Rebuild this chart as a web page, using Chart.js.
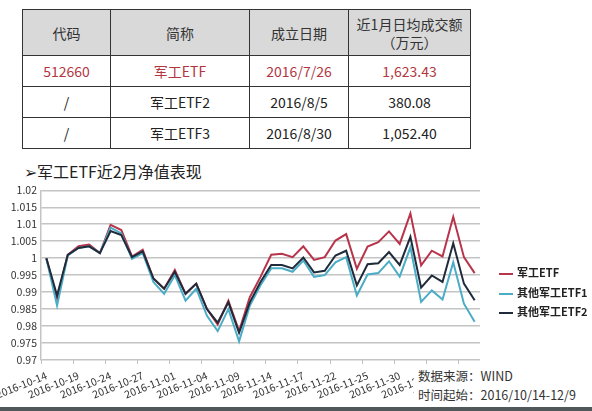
<!DOCTYPE html>
<html>
<head>
<meta charset="utf-8">
<script src="https://cdn.jsdelivr.net/npm/chart.js@4.4.1/dist/chart.umd.min.js"></script>
<style>
  body { margin: 0; background: #fff; font-family: "Noto Sans CJK SC", sans-serif; }
  #wrap { position: relative; width: 592px; height: 411px; overflow: hidden; background: #fff; }
  table { position: absolute; left: 22px; top: 9px; border-collapse: collapse; font-size: 14px; color: #222; }
  td, th { border: 1.5px solid #333; text-align: center; padding: 0; font-weight: normal; }
  th { background: #d9d9d9; height: 45px; line-height: 18px; color: #333; }
  td { height: 30px; }
  tr.hl td { color: #b3363f; }
  #title { position: absolute; left: 24px; top: 159px; font-size: 16px; color: #222; white-space: nowrap; }
  #chart { position: absolute; left: 0; top: 180px; }
  #legend { position: absolute; left: 499px; top: 263px; font-size: 11px; font-weight: bold; color: #222; }
  #legend div { height: 19.5px; line-height: 19px; white-space: nowrap; }
  #legend span { display: inline-block; width: 14px; height: 2px; vertical-align: middle; margin-right: 4px; }
  #source { position: absolute; left: 414px; top: 366px; font-size: 12.5px; color: #333; background: #fff; line-height: 19px; padding-left: 4px; white-space: nowrap; }
  #bottom { position: absolute; left: 0; top: 407px; width: 592px; height: 4px; background: #50585a; }
</style>
</head>
<body>
<div id="wrap">
  <table id="tbl"></table>
  <div id="title">➢军工ETF近2月净值表现</div>
  <canvas id="chart" width="592" height="231"></canvas>
  <div id="legend"></div>
  <div id="source">数据来源：WIND<br>时间起始：2016/10/14-12/9</div>
  <div id="bottom"></div>
</div>
<script>
// 表格数据
var headers = ["代码", "简称", "成立日期", "近1月日均成交额<br>（万元）"];
var codes = ["512660", "/", "/"];
var names = ["军工ETF", "军工ETF2", "军工ETF3"];
var setupDates = ["2016/7/26", "2016/8/5", "2016/8/30"];
var turnover = ["1,623.43", "380.08", "1,052.40"];
var colWidths = [87, 138, 98, 121];

// 净值数据 (2016/10/14 - 2016/12/9)
var dates = [
  "2016-10-14", "2016-10-17", "2016-10-18", "2016-10-19", "2016-10-20", "2016-10-21",
  "2016-10-24", "2016-10-25", "2016-10-26", "2016-10-27", "2016-10-28", "2016-10-31",
  "2016-11-01", "2016-11-02", "2016-11-03", "2016-11-04", "2016-11-07", "2016-11-08",
  "2016-11-09", "2016-11-10", "2016-11-11", "2016-11-14", "2016-11-15", "2016-11-16",
  "2016-11-17", "2016-11-18", "2016-11-21", "2016-11-22", "2016-11-23", "2016-11-24",
  "2016-11-25", "2016-11-28", "2016-11-29", "2016-11-30", "2016-12-01", "2016-12-02",
  "2016-12-05", "2016-12-06", "2016-12-07", "2016-12-08", "2016-12-09"
];
var junGong = [
  1.000, 0.988, 1.001, 1.0035, 1.004, 1.0015, 1.0098, 1.0083, 1.0005, 1.0025,
  0.994, 0.991, 0.9965, 0.9895, 0.9925, 0.985, 0.9805, 0.9875, 0.9785, 0.9885,
  0.9945, 1.001, 1.0013, 1.0003, 1.0035, 0.9995, 1.0003, 1.0052, 1.0071, 0.9969,
  1.0034, 1.0047, 1.0079, 1.0042, 1.0132, 0.9979, 1.0022, 1.0005, 1.0122, 1.0003,
  0.9956
];
var other1 = [
  1.000, 0.986, 1.0008, 1.003, 1.0035, 1.0015, 1.009, 1.0073, 0.9998, 1.0015,
  0.993, 0.9895, 0.995, 0.9875, 0.991, 0.983, 0.9785, 0.985, 0.9755, 0.986,
  0.992, 0.997, 0.997, 0.996, 0.9993, 0.9945, 0.995, 0.9988, 1.0003, 0.989,
  0.9952, 0.9956, 0.9991, 0.9946, 1.0032, 0.9871, 0.9905, 0.9878, 0.9988, 0.9866,
  0.9813
];
var other2 = [
  1.000, 0.989, 1.001, 1.003, 1.0035, 1.0015, 1.008, 1.0068, 1.0003, 1.002,
  0.994, 0.991, 0.996, 0.9895, 0.9925, 0.985, 0.981, 0.987, 0.978, 0.987,
  0.993, 0.998, 0.998, 0.997, 1.0002, 0.9958, 0.9963, 1.0008, 1.0022, 0.992,
  0.9982, 0.9985, 1.0018, 0.998, 1.0063, 0.9913, 0.9949, 0.993, 1.0044, 0.9925,
  0.9876
];
var seriesNames = ["军工ETF", "其他军工ETF1", "其他军工ETF2"];
var seriesColors = ["#b8344b", "#4bacc6", "#1f2a3a"];

// 表格
var tbl = document.getElementById("tbl");
var html = "<tr>";
for (let i = 0; i < headers.length; i++) {
  html += '<th style="width:' + colWidths[i] + 'px">' + headers[i] + "</th>";
}
html += "</tr>";
for (let r = 0; r < codes.length; r++) {
  html += '<tr' + (r === 0 ? ' class="hl"' : '') + '>';
  html += "<td>" + codes[r] + "</td><td>" + names[r] + "</td><td>" + setupDates[r] + "</td><td>" + turnover[r] + "</td></tr>";
}
tbl.innerHTML = html;

// 图例
var legend = document.getElementById("legend");
for (let i = 0; i < seriesNames.length; i++) {
  legend.innerHTML += '<div><span style="background:' + seriesColors[i] + '"></span>' + seriesNames[i] + '</div>';
}

var ctx = document.getElementById("chart").getContext("2d");
var myChart = new Chart(ctx, {
  type: "line",
  data: {
    labels: dates,
    datasets: [
      { label: seriesNames[0], data: junGong, borderColor: seriesColors[0], order: 3 },
      { label: seriesNames[1], data: other1, borderColor: seriesColors[1], order: 2 },
      { label: seriesNames[2], data: other2, borderColor: seriesColors[2], order: 1 }
    ]
  },
  options: {
    responsive: false,
    animation: false,
    layout: { padding: { top: 6, right: 112, left: 0, bottom: 0 } },
    elements: {
      line: { borderWidth: 2, tension: 0 },
      point: { radius: 0 }
    },
    plugins: { legend: { display: false }, tooltip: { enabled: false } },
    scales: {
      x: {
        offset: true,
        afterFit: function (scale) {
          scale.height = 51;
          scale.paddingLeft = 0;
          scale.paddingRight = 0;
        },
        grid: {
          offset: true,
          drawOnChartArea: false,
          tickLength: 4,
          color: function (c) { return c.index % 3 === 0 ? "#bfbfbf" : "rgba(0,0,0,0)"; }
        },
        border: { display: false },
        ticks: {
          autoSkip: false,
          maxRotation: 22,
          minRotation: 22,
          padding: 5,
          color: "#333",
          font: { family: "Liberation Sans Narrow, Noto Sans CJK SC", size: 10.5 },
          callback: function (v, i) { return i % 3 === 0 ? dates[i] : ""; }
        }
      },
      y: {
        min: 0.97,
        max: 1.02,
        afterFit: function (scale) { scale.width = 41; },
        grid: { color: "#c4c4c4", lineWidth: 1.5, drawTicks: false },
        border: { display: true, color: "#c4c4c4", width: 1.5 },
        ticks: {
          stepSize: 0.005,
          padding: 4,
          color: "#333",
          font: { family: "Noto Sans CJK SC", size: 10.5 },
          callback: function (v) { return String(parseFloat(v.toFixed(3))); }
        }
      }
    }
  }
});
</script>
</body>
</html>
